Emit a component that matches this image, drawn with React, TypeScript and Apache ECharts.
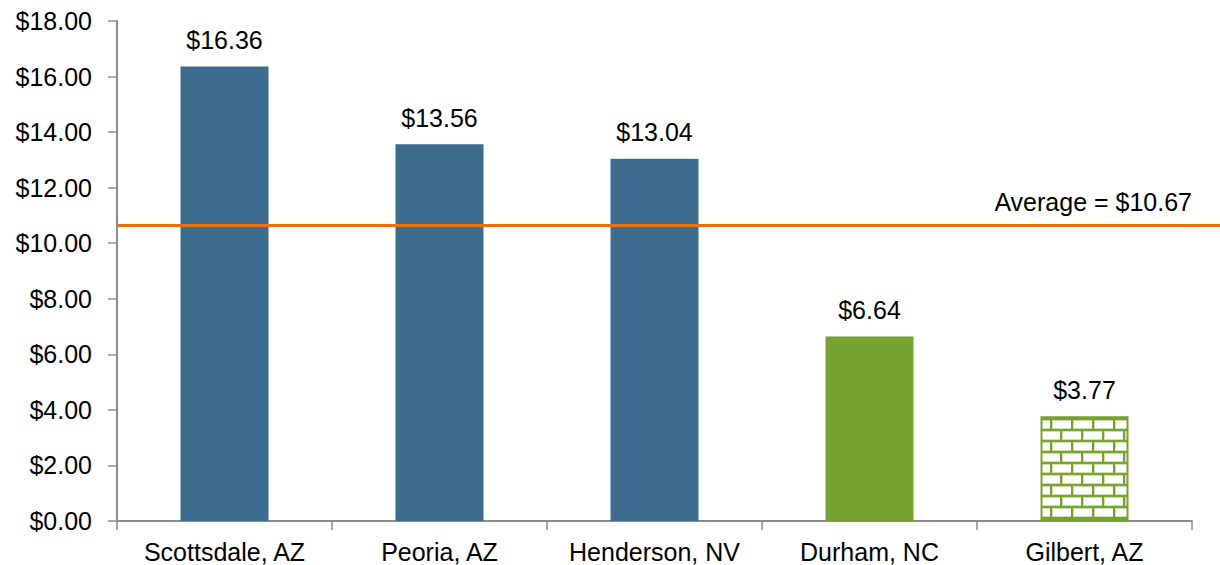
import React, { useEffect, useRef } from "react";
import * as echarts from "echarts";

const categories = ["Scottsdale, AZ", "Peoria, AZ", "Henderson, NV", "Durham, NC", "Gilbert, AZ"];
const values = [16.36, 13.56, 13.04, 6.64, 3.77];
const average = 10.67;
const yMin = 0;
const yMax = 18;
const yInterval = 2;

const BLUE = "#3D6D8E";
const GREEN = "#77A22F";
const ORANGE = "#EC700C";
const AXIS = "#8C8C8C";
const FONT = "Liberation Sans";
const FS = 25;

const GRID_LEFT = 117;
const GRID_RIGHT = 28;
const GRID_TOP = 21;
const GRID_BOTTOM = 44;

function brickCanvas(): HTMLCanvasElement {
  const c = document.createElement("canvas");
  const w = 42;
  const h = 22;
  c.width = w;
  c.height = h;
  const ctx = c.getContext("2d")!;
  ctx.fillStyle = "#ffffff";
  ctx.fillRect(0, 0, w, h);
  ctx.fillStyle = "#CFE0B0";
  ctx.fillRect(0, 2, w, 1);
  ctx.fillRect(0, 10, w, 1);
  ctx.fillRect(0, 13, w, 1);
  ctx.fillRect(0, 21, w, 1);
  ctx.fillRect(2, 2, 1, 9);
  ctx.fillRect(23, 2, 1, 9);
  ctx.fillRect(12, 13, 1, 9);
  ctx.fillRect(33, 13, 1, 9);
  ctx.fillStyle = GREEN;
  ctx.fillRect(0, 0, w, 2);
  ctx.fillRect(0, 11, w, 2);
  ctx.fillRect(0, 2, 2, 9);
  ctx.fillRect(21, 2, 2, 9);
  ctx.fillRect(10, 13, 2, 9);
  ctx.fillRect(31, 13, 2, 9);
  return c;
}

export default function App() {
  const ref = useRef<HTMLDivElement>(null);

  useEffect(() => {
    document.body.style.margin = "0";
    if (!ref.current) return;
    const chart = echarts.init(ref.current, null, { renderer: "svg" });
    const brick = brickCanvas();
    const barColors: any[] = [
      BLUE,
      BLUE,
      BLUE,
      GREEN,
      { image: brick, repeat: "repeat", imageWidth: 42, imageHeight: 22 },
    ];

    chart.setOption({
      animation: false,
      backgroundColor: "#ffffff",
      grid: { left: GRID_LEFT, right: GRID_RIGHT, top: GRID_TOP, bottom: GRID_BOTTOM, containLabel: false },
      xAxis: {
        type: "category",
        data: categories,
        axisLine: { show: true, lineStyle: { color: AXIS, width: 2 } },
        axisTick: { show: true, alignWithLabel: false, length: 9, lineStyle: { color: AXIS, width: 1.5 } },
        axisLabel: { color: "#000", fontFamily: FONT, fontSize: FS, margin: 18, interval: 0, hideOverlap: false },
      },
      yAxis: {
        type: "value",
        min: yMin,
        max: yMax,
        interval: yInterval,
        splitLine: { show: false },
        axisLine: { show: true, lineStyle: { color: AXIS, width: 2 } },
        axisTick: { show: true, inside: false, length: 9, lineStyle: { color: AXIS, width: 1.5 } },
        axisLabel: {
          color: "#000",
          fontFamily: FONT,
          fontSize: FS,
          margin: 25,
          formatter: (v: number) => "$" + v.toFixed(2),
        },
      },
      series: [
        {
          type: "bar",
          barWidth: 88,
          data: values.map((v, i) => ({
            value: v,
            itemStyle:
              i === 4
                ? { color: barColors[i], borderColor: GREEN, borderWidth: 2 }
                : { color: barColors[i] },
          })),
          label: {
            show: true,
            position: "top",
            distance: 14,
            color: "#000",
            fontFamily: FONT,
            fontSize: FS,
            formatter: (p: any) => "$" + Number(p.value).toFixed(2),
          },
        },
      ],
    });

    const rawY = chart.convertToPixel({ yAxisIndex: 0 }, average) as number;
    const lineY = Math.round(rawY) + 0.5;
    const w = chart.getWidth();
    chart.setOption({
      graphic: [
        {
          type: "line",
          z: 10,
          shape: { x1: GRID_LEFT + 1, y1: lineY, x2: w, y2: lineY },
          style: { stroke: ORANGE, lineWidth: 3 },
        },
        {
          type: "text",
          z: 10,
          x: w - GRID_RIGHT,
          y: lineY - 11,
          style: {
            text: "Average = $" + average.toFixed(2),
            fill: "#000",
            font: `${FS}px "${FONT}"`,
            textAlign: "right",
            textVerticalAlign: "bottom",
          },
        },
      ],
    });

    return () => chart.dispose();
  }, []);

  return <div ref={ref} style={{ width: 1220, height: 565 }} />;
}
